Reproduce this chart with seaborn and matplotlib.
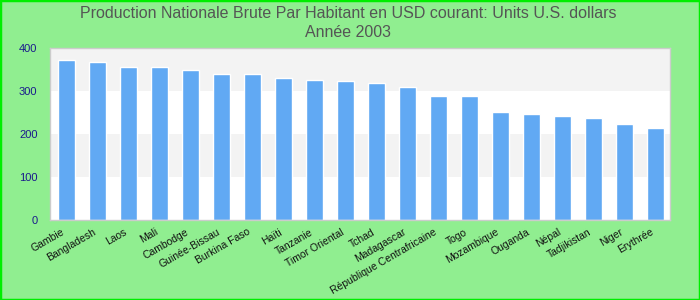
import matplotlib
matplotlib.use("Agg")
import matplotlib.pyplot as plt
import matplotlib.transforms as mtransforms
import seaborn as sns
import pandas as pd
from matplotlib.patches import Rectangle

countries = ["Gambie", "Bangladesh", "Laos", "Mali", "Cambodge", "Guinée-Bissau",
             "Burkina Faso", "Haïti", "Tanzanie", "Timor Oriental", "Tchad",
             "Madagascar", "République Centrafricaine", "Togo", "Mozambique",
             "Ouganda", "Népal", "Tadjikistan", "Niger", "Erythrée"]
values = [372, 367, 356, 356, 349, 340, 340, 330, 326, 323, 319,
          309, 288, 288, 251, 246, 242, 237, 223, 214]
y_ticks = [0, 100, 200, 300, 400]
title = "Production Nationale Brute Par Habitant en USD courant: Units U.S. dollars\nAnnée 2003"

df = pd.DataFrame({"pays": countries, "valeur": values})

sns.set_theme(style="white")
plt.rcParams["font.family"] = ["Liberation Sans", "DejaVu Sans"]

fig = plt.figure(figsize=(7, 3), dpi=100, facecolor="#90ee90")
ax = fig.add_axes([50/700, 1-220/300, 620/700, 172/300])
ax.set_facecolor("white")

# alternating background bands
for lo, hi in zip(y_ticks[:-1], y_ticks[1:]):
    if (lo // 100) % 2 == 1:
        ax.axhspan(lo, hi, color="#f3f3f3", zorder=0, lw=0)

sns.barplot(data=df, x="pays", y="valeur", color="#61a9f3", saturation=1,
            width=0.55, ax=ax, zorder=2)

ax.set_xlim(-0.53, len(countries) - 0.53)
ax.set_ylim(0, 400)
ax.set_yticks(y_ticks)
ax.set_yticklabels([str(v) for v in y_ticks], color="#1a1a8c", fontsize=8)
ax.set_xlabel("")
ax.set_ylabel("")
ax.set_xticks(range(len(countries)))
ax.set_xticklabels(countries, rotation=30, ha="right", rotation_mode="anchor",
                   fontsize=7.5, color="#111111")
ax.tick_params(axis="y", length=0, pad=9)
ax.tick_params(axis="x", length=0, pad=5)
offset = mtransforms.ScaledTranslation(-5/100, 0, fig.dpi_scale_trans)
for lab in ax.get_xticklabels():
    lab.set_transform(lab.get_transform() + offset)
ax.grid(False)
for s in ax.spines.values():
    s.set_color("#cccccc")
    s.set_linewidth(1)

fig.text(0.497, 1-23/300, title, ha="center", va="center", fontsize=11.5,
         color="#555555", linespacing=1.35)

fig.patches.append(Rectangle((0, 0), 1, 1, transform=fig.transFigure,
                             fill=False, edgecolor="#00ee00", linewidth=2.5,
                             zorder=10))

fig.savefig("out.png", dpi=100, facecolor=fig.get_facecolor())
